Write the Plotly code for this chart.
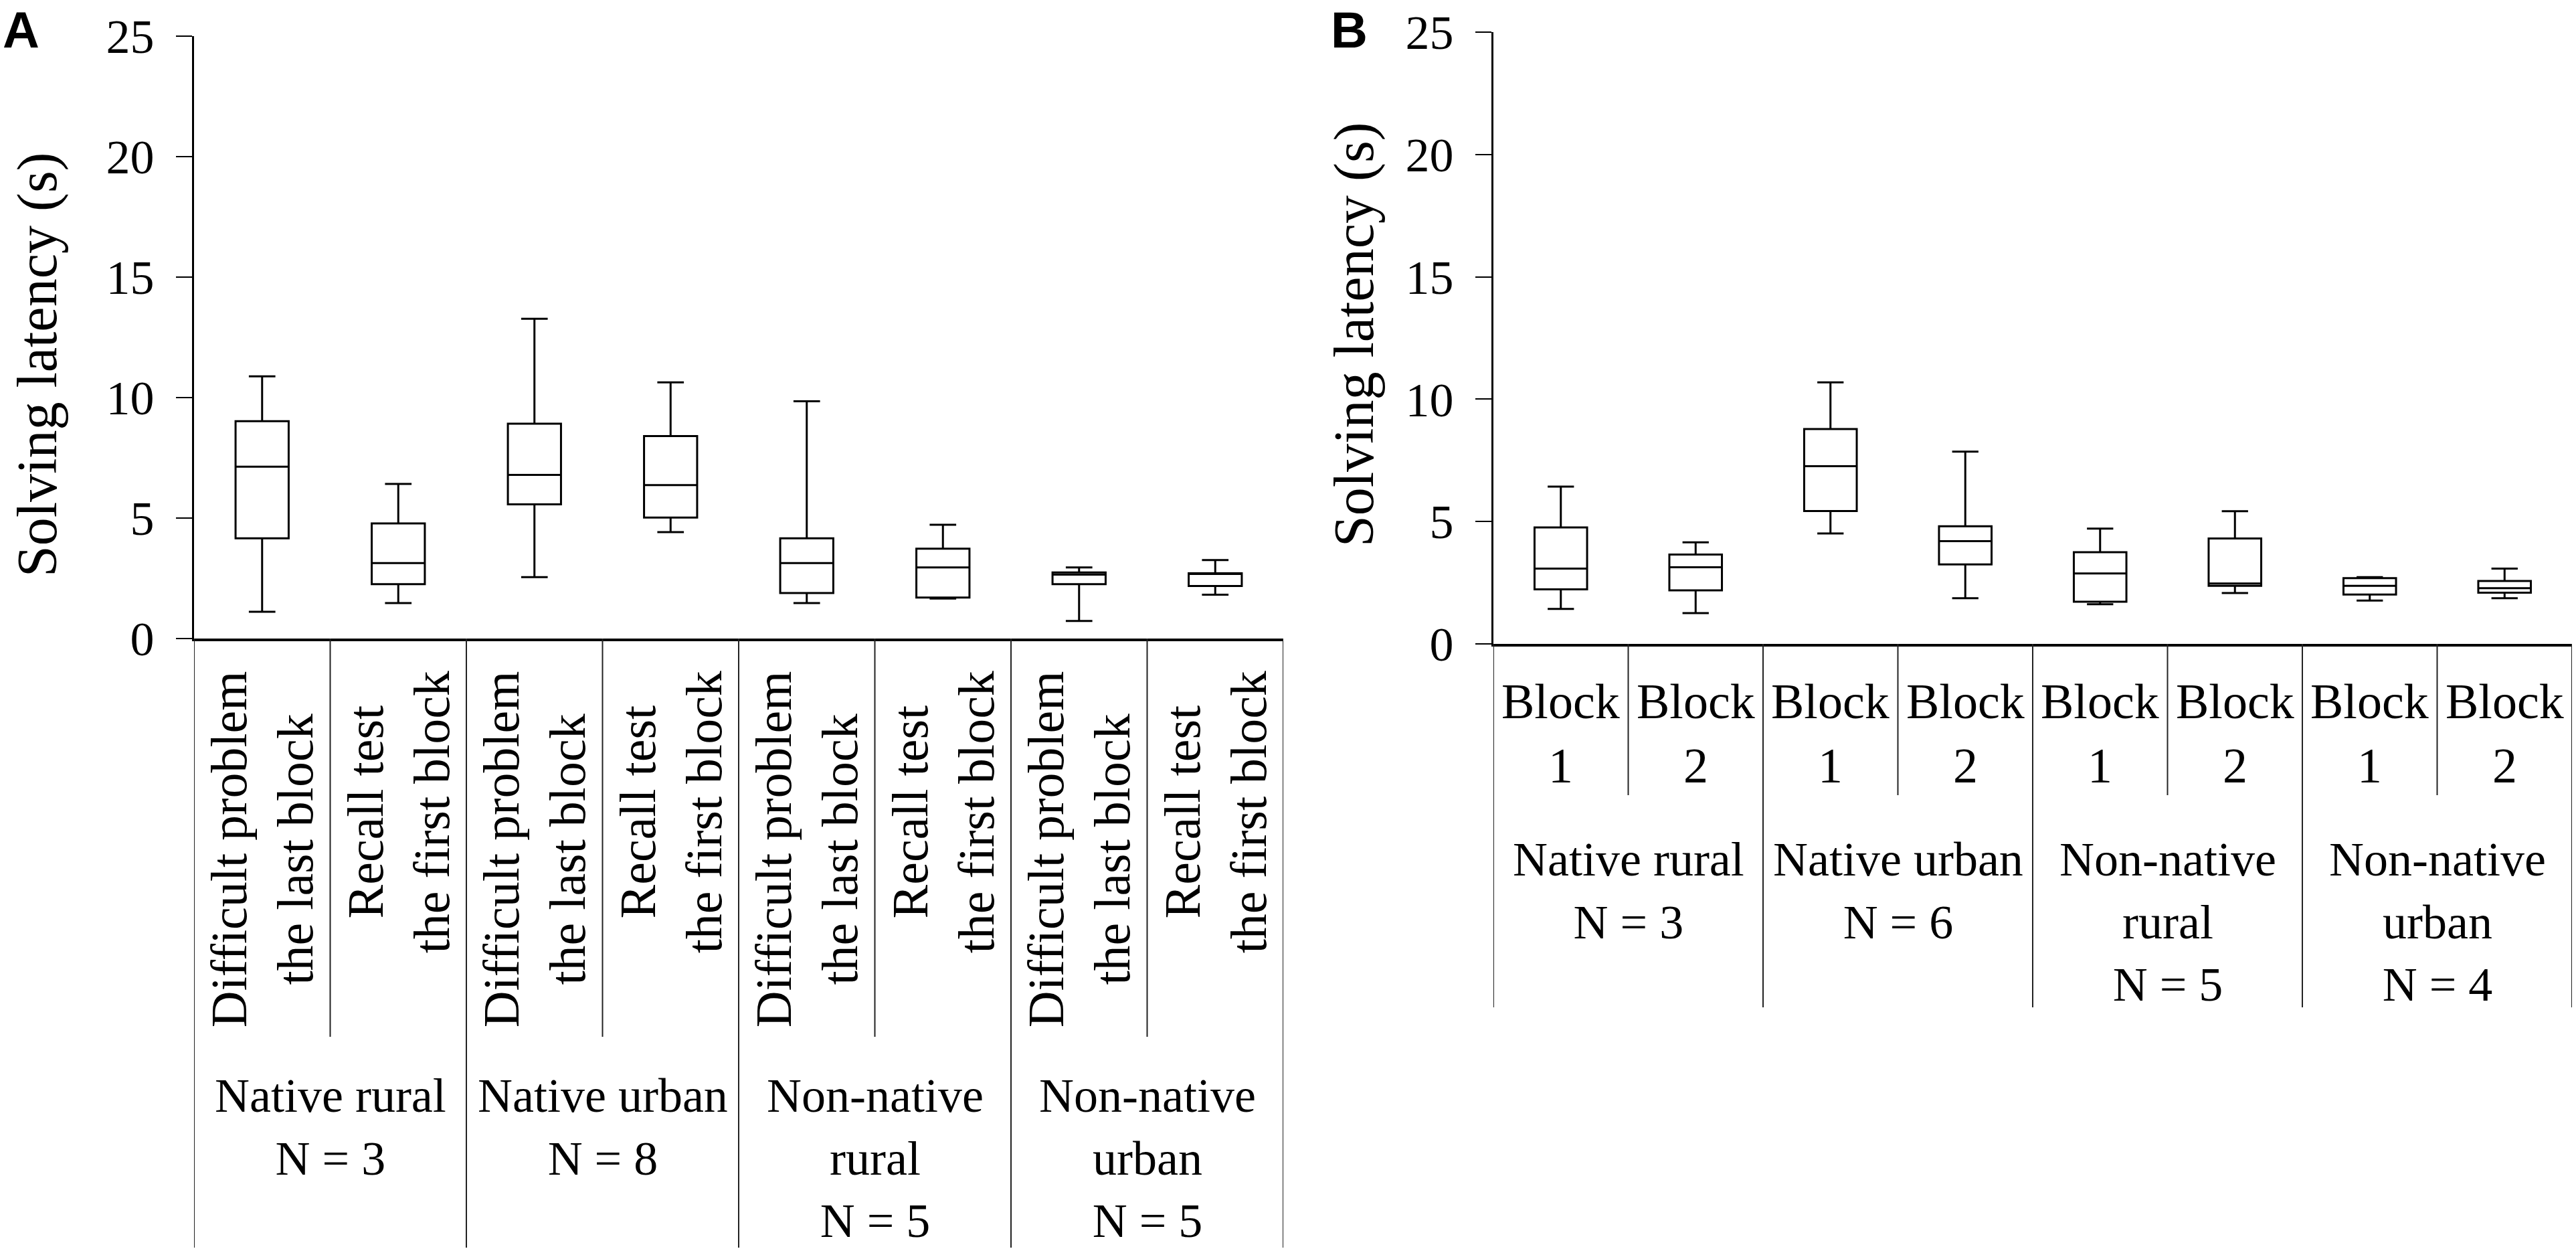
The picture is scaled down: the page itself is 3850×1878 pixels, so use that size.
import plotly.graph_objects as go

# ---- data ----
groups_a = ["Native rural<br>N = 3", "Native urban<br>N = 8",
            "Non-native<br>rural<br>N = 5", "Non-native<br>urban<br>N = 5"]
conds_a = ["Difficult problem<br>the last block", "Recall test<br>the first block"]
upper_a = [10.88, 6.42, 13.27, 10.63, 9.85, 4.72, 2.95, 3.26]
q3_a = [9.02, 4.78, 8.92, 8.40, 4.16, 3.73, 2.74, 2.71]
median_a = [7.13, 3.13, 6.79, 6.37, 3.13, 2.95, 2.65, 2.69]
q1_a = [4.16, 2.26, 5.57, 5.02, 1.89, 1.70, 2.26, 2.18]
lower_a = [1.11, 1.47, 2.55, 4.42, 1.47, 1.66, 0.73, 1.82]

groups_b = ["Native rural<br>N = 3", "Native urban<br>N = 6",
            "Non-native<br>rural<br>N = 5", "Non-native<br>urban<br>N = 4"]
conds_b = ["Block<br>1", "Block<br>2"]
upper_b = [6.43, 4.15, 10.69, 7.86, 4.71, 5.42, 2.73, 3.08]
q3_b = [4.76, 3.65, 8.78, 4.81, 3.75, 4.31, 2.69, 2.57]
median_b = [3.08, 3.13, 7.26, 4.20, 2.88, 2.47, 2.37, 2.28]
q1_b = [2.23, 2.19, 5.43, 3.25, 1.72, 2.37, 2.02, 2.09]
lower_b = [1.43, 1.26, 4.51, 1.87, 1.62, 2.08, 1.77, 1.87]

y_ticks = [0, 5, 10, 15, 20, 25]

# ---- page geometry (pixels) ----
W, H = 3850, 1878
SERIF = "Liberation Serif, Times New Roman, serif"


def px(x):
    return x / W


def py(y):
    return 1 - y / H


def cats(groups, conds):
    return [f"{g}|{c}" for g in groups for c in conds]


cats_a = cats(groups_a, conds_a)
cats_b = cats(groups_b, conds_b)

fig = go.Figure()

box_style = dict(fillcolor="white", line=dict(color="black", width=3),
                 whiskerwidth=0.5, width=0.39, boxpoints=False,
                 showlegend=False, hoverinfo="skip")

fig.add_trace(go.Box(x=cats_a, q1=q1_a, median=median_a, q3=q3_a,
                     lowerfence=lower_a, upperfence=upper_a,
                     xaxis="x", yaxis="y", **box_style))
fig.add_trace(go.Box(x=cats_b, q1=q1_b, median=median_b, q3=q3_b,
                     lowerfence=lower_b, upperfence=upper_b,
                     xaxis="x2", yaxis="y2", **box_style))

xax = dict(type="category", range=[-0.5, 7.5], showticklabels=False,
           ticks="", showgrid=False, zeroline=False, showline=True,
           linecolor="black", linewidth=4, fixedrange=True, automargin=False)
yax = dict(range=[0, 25], tickvals=y_ticks, ticks="outside", ticklen=24,
           tickwidth=2, tickcolor="black", showgrid=False, zeroline=False,
           showline=True, linecolor="black", linewidth=3,
           tickfont=dict(family=SERIF, size=72, color="black"),
           ticklabelstandoff=18, ticklabeloverflow="allow",
           fixedrange=True, automargin=False)

fig.update_layout(
    width=W, height=H,
    margin=dict(l=0, r=0, t=0, b=0, autoexpand=False),
    paper_bgcolor="white", plot_bgcolor="white",
    boxmode="overlay",
    xaxis=dict(domain=[px(290), px(1918)], anchor="y",
               categoryarray=cats_a, **xax),
    yaxis=dict(domain=[py(954), py(54)], anchor="x", **yax),
    xaxis2=dict(domain=[px(2232), px(3844)], anchor="y2",
                categoryarray=cats_b, **xax),
    yaxis2=dict(domain=[py(962), py(48)], anchor="x2", **yax),
)

# separators under the axes
def separators(xref, axis_y, short_end, long_end, n):
    for i in range(n + 1):
        end = long_end if i % 2 == 0 else short_end
        fig.add_shape(type="line", xref=xref, yref="paper",
                      x0=i - 0.5, x1=i - 0.5, y0=py(axis_y), y1=py(end),
                      line=dict(color="#222", width=2))


separators("x", 954, 1549, 1864, 8)
separators("x2", 962, 1188, 1505, 8)

# category labels
for c in cats_a:
    fig.add_annotation(xref="x", yref="paper", x=c, y=py(1000),
                       text=c.split("|")[1], textangle=-90, showarrow=False,
                       xanchor="center", yanchor="top", align="center",
                       font=dict(family=SERIF, size=76, color="black"))
for c in cats_b:
    fig.add_annotation(xref="x2", yref="paper", x=c, y=py(1005),
                       text=c.split("|")[1], showarrow=False,
                       xanchor="center", yanchor="top", align="center",
                       font=dict(family=SERIF, size=74, color="black"))

# group labels
for i, g in enumerate(groups_a):
    fig.add_annotation(xref="x", yref="paper", x=2 * i + 0.5, y=py(1595),
                       text=g, showarrow=False, xanchor="center",
                       yanchor="top", align="center",
                       font=dict(family=SERIF, size=72, color="black"))
for i, g in enumerate(groups_b):
    fig.add_annotation(xref="x2", yref="paper", x=2 * i + 0.5, y=py(1242),
                       text=g, showarrow=False, xanchor="center",
                       yanchor="top", align="center",
                       font=dict(family=SERIF, size=72, color="black"))

# axis titles
for x, y in [(56, 545), (2024, 500)]:
    fig.add_annotation(xref="paper", yref="paper", x=px(x), y=py(y),
                       text="Solving latency (s)", textangle=-90,
                       showarrow=False, xanchor="center", yanchor="middle",
                       font=dict(family=SERIF, size=84, color="black"))

# panel letters
for letter, x in [("A", 2), ("B", 1987)]:
    fig.add_annotation(xref="paper", yref="paper", x=px(x), y=1,
                       text=f"<b>{letter}</b>", showarrow=False,
                       xanchor="left", yanchor="top",
                       font=dict(family="Liberation Sans, Arial, sans-serif",
                                 size=76, color="black"))

fig.write_html("out.html", config={"displayModeBar": False},
               post_script="document.body.style.margin='0px';")
